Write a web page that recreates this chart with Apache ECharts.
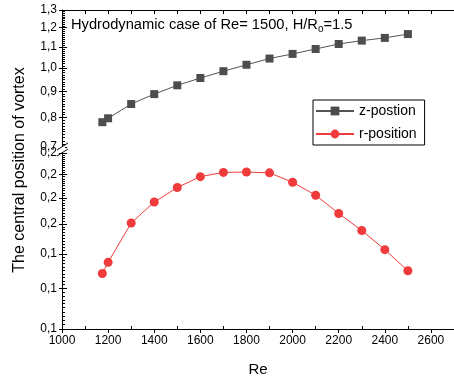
<!DOCTYPE html>
<html><head><meta charset="utf-8">
<script src="https://cdn.jsdelivr.net/npm/echarts@6/dist/echarts.min.js"></script>
<style>html,body{margin:0;padding:0;background:#fff}#c{width:454px;height:382px}</style>
</head><body><div id="c"></div>
<script>
const reValues = [1175,1200,1300,1400,1500,1600,1700,1800,1900,2000,2100,2200,2300,2400,2500];
const zPosition = [0.783,0.797,0.850,0.889,0.925,0.956,0.986,1.015,1.044,1.066,1.090,1.115,1.132,1.146,1.166];
const rPosition = [0.1282,0.1348,0.1608,0.1766,0.1885,0.1979,0.2017,0.2020,0.2013,0.1930,0.1821,0.1678,0.1555,0.1427,0.1298];
const upperTicks = [0.7,0.8,0.9,1.0,1.1,1.2,1.3];
const lowerTicks = [0.10,0.12,0.14,0.16,0.18,0.20,0.22];
const xTicks = [1000,1200,1400,1600,1800,2000,2200,2400,2600];
const xMinorTicks = [1100,1300,1500,1700,1900,2100,2300,2500];
const xAll = [1000,1100,1200,1300,1400,1500,1600,1700,1800,1900,2000,2100,2200,2300,2400,2500,2600];

const L = Math.log10;
const font = 'Liberation Sans, Arial, sans-serif';
function minorRange(a, b, step) {
  const out = [];
  const n = Math.round((b - a) / step);
  for (let i = 0; i <= n; i++) out.push(L(a + i * step));
  return out;
}
const upperMinor = minorRange(0.7, 1.3, 0.01);
const lowerMinor = minorRange(0.10, 0.22, 0.002);
const fmt = v => (Math.pow(10, v)).toFixed(1).replace('.', ',');

function yAxesFor(gridIndex, ticks, minor) {
  const mn = L(ticks[0]), mx = L(ticks[ticks.length - 1]);
  const base = {type:'value', gridIndex, min: mn, max: mx, position:'left', splitLine:{show:false}};
  return [
    Object.assign({}, base, {
      axisLine:{show:true, onZero:false, lineStyle:{color:'#000', width:1}},
      axisTick:{show:true, inside:false, length:3, customValues: ticks.map(L), lineStyle:{color:'#000'}},
      axisLabel:{show:true, customValues: ticks.map(L), formatter: fmt, color:'#000', fontSize:12, fontFamily:font, margin:5}
    }),
    Object.assign({}, base, {
      axisLine:{show:false},
      axisTick:{show:true, inside:true, length:5, customValues: ticks.map(L), lineStyle:{color:'#000'}},
      axisLabel:{show:false}
    }),
    Object.assign({}, base, {
      axisLine:{show:false},
      axisTick:{show:true, inside:true, length:3, customValues: minor, lineStyle:{color:'#000'}},
      axisLabel:{show:false}
    })
  ];
}

const xBase = {type:'value', min:1000, max:2700, splitLine:{show:false}};
const option = {
  animation:false,
  backgroundColor:'#fff',
  title:{
    text:'Hydrodynamic case of Re= 1500, H/R{s|o}=1.5',
    left:66, top:11,
    textStyle:{fontSize:14.7, fontWeight:'normal', color:'#000', fontFamily:font,
      rich:{s:{fontSize:10, color:'#000', fontFamily:font, verticalAlign:'bottom', padding:[8,0,0,0]}}}
  },
  legend:{
    orient:'vertical', left:313, top:100,
    data:['z-postion','r-position'],
    itemWidth:38, itemHeight:11, itemGap:9,
    borderColor:'#000', borderWidth:1, padding:[4,8,4,2],
    textStyle:{fontSize:14, color:'#000', fontFamily:font}
  },
  grid:[
    {left:62, top:10, width:397, height:137},
    {left:62, top:153, width:397, height:176}
  ],
  xAxis:[
    Object.assign({}, xBase, {gridIndex:0, position:'top',
      axisLine:{show:true, onZero:false, lineStyle:{color:'#000'}},
      axisTick:{show:true, inside:true, length:4, customValues:xAll, lineStyle:{color:'#000'}},
      axisLabel:{show:false}}),
    Object.assign({}, xBase, {gridIndex:1, position:'bottom',
      name:'Re', nameLocation:'middle', nameGap:33,
      nameTextStyle:{fontSize:15, color:'#000', fontFamily:font},
      axisLine:{show:true, onZero:false, lineStyle:{color:'#000'}},
      axisTick:{show:true, inside:false, length:4, customValues:xTicks, lineStyle:{color:'#000'}},
      axisLabel:{show:true, customValues:xTicks, formatter: v => String(Math.round(v)), color:'#000', fontSize:12, fontFamily:font, margin:6}}),
    Object.assign({}, xBase, {gridIndex:1, position:'bottom',
      axisLine:{show:false},
      axisTick:{show:true, inside:true, length:3, customValues:xMinorTicks, lineStyle:{color:'#000'}},
      axisLabel:{show:false}})
  ],
  yAxis: yAxesFor(0, upperTicks, upperMinor).concat(yAxesFor(1, lowerTicks, lowerMinor)),
  series:[
    {name:'z-postion', type:'line', xAxisIndex:0, yAxisIndex:0,
      data: reValues.map((x,i)=>[x, L(zPosition[i])]),
      symbol:'rect', symbolSize:8, color:'#4d4d4d',
      lineStyle:{color:'#555', width:1}, itemStyle:{color:'#4d4d4d'}},
    {name:'r-position', type:'line', xAxisIndex:1, yAxisIndex:3,
      data: reValues.map((x,i)=>[x, L(rPosition[i])]),
      symbol:'circle', symbolSize:9, color:'#ef3b3b',
      lineStyle:{color:'#ef3b3b', width:1}, itemStyle:{color:'#ef3b3b'}}
  ],
  graphic:[
    {type:'rect', shape:{x:59, y:147, width:6, height:6}, style:{fill:'#fff'}, z:100},
    {type:'line', shape:{x1:57, y1:150, x2:68, y2:143}, style:{stroke:'#000', lineWidth:1}, z:101},
    {type:'line', shape:{x1:57, y1:156, x2:68, y2:149}, style:{stroke:'#000', lineWidth:1}, z:101},
    {type:'text', x:20, y:170, rotation:Math.PI/2,
      style:{text:'The central position of vortex', fontSize:16, fill:'#000', fontFamily:font, align:'center', verticalAlign:'middle'}}
  ]
};
const chart = echarts.init(document.getElementById('c'), null, {renderer:'canvas'});
chart.setOption(option);
</script></body></html>
